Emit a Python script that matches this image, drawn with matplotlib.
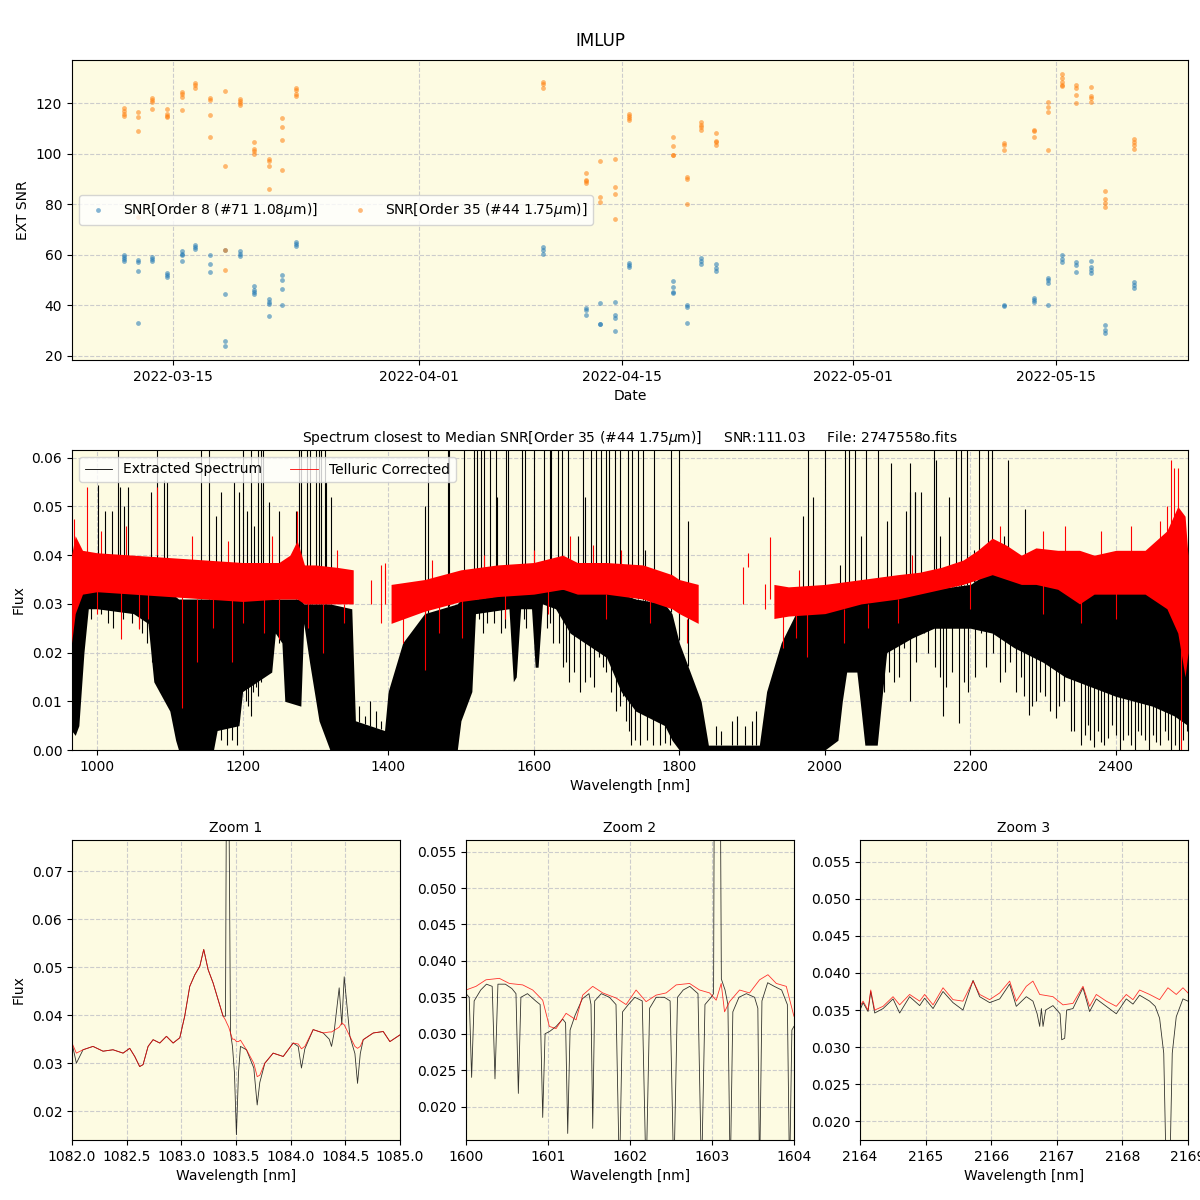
import numpy as np
import pandas as pd
import matplotlib
matplotlib.use("Agg")
import matplotlib.pyplot as plt
import matplotlib.dates as mdates
from matplotlib.lines import Line2D

BG = "#fdfbe2"
GRID = dict(ls="--", color="#cccccc", lw=0.8)

# ---------------- SNR per night (several exposures per night) ----------------
nights = ["2022-03-11 15:00", "2022-03-12 13:30", "2022-03-13 13:10", "2022-03-14 14:00",
          "2022-03-15 14:10", "2022-03-16 13:10", "2022-03-17 14:00", "2022-03-18 14:50",
          "2022-03-19 14:50", "2022-03-20 14:00", "2022-03-21 14:50", "2022-03-22 13:10",
          "2022-03-23 12:15", "2022-04-09 13:30", "2022-04-12 13:00", "2022-04-13 12:30",
          "2022-04-14 12:45", "2022-04-15 12:00", "2022-04-18 13:00", "2022-04-19 11:45",
          "2022-04-20 11:30", "2022-04-21 11:45", "2022-05-11 10:00", "2022-05-13 11:45",
          "2022-05-14 11:15", "2022-05-15 10:20", "2022-05-16 09:20", "2022-05-17 09:20",
          "2022-05-18 09:40", "2022-05-20 10:00"]
snr_o8 = [[60.1, 59.2, 58.4, 57.7], [58.1, 57.2, 53.5, 32.9], [59.2, 58.5, 57.7],
          [52.7, 51.9, 51.4], [61.6, 60.5, 60.0, 57.5], [63.9, 63.1, 62.2],
          [60.0, 56.3, 53.1], [61.8, 44.4, 25.9, 24.0], [61.6, 60.5, 59.6],
          [47.6, 46.0, 45.2, 44.4], [42.4, 41.4, 40.4, 35.7], [52.1, 49.9, 46.4, 40.1],
          [65.1, 64.3, 63.4], [62.9, 61.8, 60.5], [39.1, 38.2, 36.1],
          [40.8, 32.8, 32.5], [41.2, 36.1, 34.9, 29.8], [56.9, 56.0, 55.1],
          [49.6, 47.2, 45.1, 44.7], [40.1, 39.3, 32.9], [58.8, 57.7, 56.3],
          [56.3, 54.6, 53.4], [40.3, 39.8], [43.0, 42.2, 41.4], [50.9, 49.9, 49.0, 40.1],
          [60.0, 58.4, 57.2], [57.3, 55.9, 53.1], [57.5, 55.1, 54.0, 52.8],
          [32.1, 30.2, 29.0], [49.3, 48.1, 46.9]]
snr_o35 = [[118.0, 116.7, 115.8, 114.8], [116.4, 114.5, 108.9, 75.0], [121.8, 121.1, 120.3, 117.6],
           [117.6, 115.6, 115.0, 114.5], [124.2, 123.4, 122.4, 117.2], [127.9, 127.3, 125.9],
           [121.8, 121.1, 115.3, 106.5], [124.7, 95.1, 61.8, 53.9], [121.5, 120.8, 119.9, 119.1],
           [104.6, 101.8, 100.9, 99.8], [97.8, 96.9, 95.1, 86.0], [114.1, 110.5, 105.4, 93.5],
           [125.9, 125.1, 123.7, 122.9], [128.3, 127.5, 125.9], [92.3, 89.5, 89.0, 88.5],
           [97.0, 82.8, 81.0], [97.8, 86.8, 84.0, 74.1], [115.8, 115.0, 114.1, 113.1],
           [106.5, 103.0, 99.6, 99.3], [90.8, 90.0, 80.0], [112.3, 111.4, 110.4, 109.3],
           [108.1, 105.1, 104.4, 103.5], [104.0, 103.2, 101.5], [109.3, 108.8, 106.5],
           [120.5, 118.5, 116.4, 101.4], [131.6, 129.9, 128.2, 127.3, 126.6],
           [127.3, 125.9, 123.2, 120.0], [126.3, 122.9, 121.8, 120.5],
           [85.2, 82.0, 80.4, 78.8], [105.8, 104.6, 103.2, 101.8]]

# ---------------- full spectrum, read as envelopes ----------------
# extracted spectrum: top / bottom of the dense black band
ext_wl = [965, 970, 975, 982, 988, 1000, 1050, 1070, 1078, 1100, 1108, 1112, 1160, 1165,
          1195, 1200, 1240, 1245, 1254, 1258, 1280, 1284, 1292, 1305, 1320, 1350, 1355,
          1395, 1400, 1420, 1450, 1495, 1500, 1515, 1520, 1566, 1572, 1576, 1582, 1597,
          1602, 1606, 1612, 1630, 1650, 1700, 1720, 1740, 1780, 1790, 1800, 1830, 1840,
          1910, 1920, 1940, 1960, 2000, 2018, 2024, 2030, 2044, 2050, 2055, 2072, 2078,
          2085, 2120, 2150, 2200, 2230, 2260, 2300, 2330, 2400, 2450, 2480, 2499]
ext_hi = [0.030, 0.032, 0.033, 0.033, 0.033, 0.033, 0.0325, 0.032, 0.032, 0.032, 0.0315,
          0.031, 0.031, 0.031, 0.031, 0.031, 0.031, 0.031, 0.031, 0.031, 0.031, 0.030,
          0.030, 0.030, 0.030, 0.029, 0.006, 0.004, 0.012, 0.022, 0.028, 0.030, 0.031,
          0.031, 0.031, 0.032, 0.032, 0.032, 0.032, 0.033, 0.033, 0.033, 0.033, 0.033,
          0.033, 0.0325, 0.032, 0.031, 0.030, 0.028, 0.022, 0.010, 0.001, 0.001, 0.012,
          0.022, 0.028, 0.030, 0.030, 0.030, 0.030, 0.031, 0.031, 0.031, 0.031, 0.031,
          0.031, 0.032, 0.033, 0.034, 0.037, 0.035, 0.034, 0.033, 0.033, 0.032, 0.031,
          0.026]
ext_lo = [0.004, 0.003, 0.005, 0.020, 0.029, 0.029, 0.028, 0.026, 0.014, 0.008, 0.002,
          0.0, 0.0, 0.004, 0.005, 0.012, 0.016, 0.024, 0.022, 0.010, 0.009, 0.026,
          0.018, 0.006, 0.0, 0.0, 0.0, 0.0, 0.0, 0.0, 0.0, 0.0, 0.006, 0.012, 0.028,
          0.029, 0.014, 0.015, 0.029, 0.029, 0.017, 0.017, 0.030, 0.029, 0.024, 0.019,
          0.012, 0.008, 0.005, 0.002, 0.0, 0.0, 0.0, 0.0, 0.0, 0.0, 0.0, 0.0, 0.002,
          0.010, 0.016, 0.016, 0.008, 0.001, 0.001, 0.010, 0.020, 0.023, 0.025, 0.025,
          0.024, 0.021, 0.018, 0.015, 0.011, 0.009, 0.007, 0.005]

# individual deep telluric lines of the extracted spectrum (wavelength, minimum)
line_wl = [992, 1005, 1015, 1022, 1035, 1048, 1058, 1062, 1068, 1075, 1086, 1095,
           1170, 1178, 1185, 1192, 1205, 1208, 1211, 1214, 1218, 1221, 1225, 1232, 1236,
           1240, 1250, 1296, 1525, 1530, 1536, 1545, 1555, 1560, 1587, 1590, 1618, 1622,
           1626, 1635, 1640, 1645, 1649, 1655, 1663, 1670, 1677, 1683, 1690, 1695, 1700,
           1706, 1713, 1718, 1722, 1727, 1731, 1734, 1739, 1746, 1755, 1764, 1773, 1780,
           1787, 2081, 2088, 2095, 2102, 2109, 2117, 2125, 2136, 2142, 2151, 2158, 2163,
           2167, 2175, 2184, 2191, 2197, 2207, 2215, 2222, 2231, 2240, 2248, 2255, 2262,
           2269, 2273, 2280, 2285, 2290, 2296, 2303, 2310, 2317, 2322, 2329, 2338, 2343,
           2352, 2357, 2361, 2365, 2370, 2375, 2379, 2384, 2389, 2395, 2400, 2405, 2410,
           2416, 2421, 2426, 2430, 2434, 2440, 2446, 2451, 2455, 2460, 2467, 2471, 2476,
           2481, 2487, 2492, 2497]
line_min = [0.027, 0.028, 0.026, 0.025, 0.027, 0.026, 0.025, 0.024, 0.022, 0.018, 0.012,
            0.016, 0.002, 0.001, 0.002, 0.001, 0.010, 0.009, 0.007, 0.012, 0.013, 0.011,
            0.014, 0.017, 0.018, 0.020, 0.022, 0.020, 0.027, 0.024, 0.026, 0.026, 0.024,
            0.025, 0.027, 0.025, 0.025, 0.026, 0.022, 0.022, 0.017, 0.018, 0.014, 0.016,
            0.012, 0.014, 0.015, 0.013, 0.019, 0.017, 0.016, 0.012, 0.008, 0.009, 0.011,
            0.006, 0.004, 0.001, 0.002, 0.001, 0.002, 0.001, 0.001, 0.0015, 0.001, 0.012,
            0.016, 0.014, 0.015, 0.021, 0.010, 0.018, 0.024, 0.020, 0.017, 0.015, 0.007,
            0.013, 0.016, 0.0055, 0.014, 0.012, 0.015, 0.024, 0.017, 0.020, 0.014, 0.016,
            0.018, 0.012, 0.015, 0.011, 0.0072, 0.009, 0.010, 0.012, 0.011, 0.008, 0.0065,
            0.009, 0.010, 0.0038, 0.004, 0.001, 0.003, 0.0052, 0.002, 0.0007, 0.004,
            0.0017, 0.001, 0.0024, 0.0052, 0.003, 0.0, 0.002, 0.003, 0.001, 0.0, 0.004,
            0.003, 0.002, 0.0, 0.003, 0.0017, 0.001, 0.0038, 0.002, 0.0, 0.001, 0.0,
            0.002, 0.0038]

# upward spikes of the extracted spectrum (wavelength, peak flux)
spike_wl = [1028.8, 1082.6, 1142.9, 1154.3, 1200.0, 1211.4, 1220.5, 1225.1, 1227.4, 1277.6,
            1280.8, 1289.0, 1292.2, 1300.4, 1305.0, 1308.2, 1312.8, 1455.0, 1482.1, 1483.9,
            1504.6, 1517.4, 1522.5, 1528.0, 1531.2, 1539.4, 1548.6, 1561.9, 1564.7, 1583.5,
            1588.1, 1600.0, 1614.7, 1622.0, 1624.3, 1633.5, 1638.5, 1647.2, 1667.4, 1678.4,
            1684.9, 1693.1, 1699.5, 1704.1, 1711.9, 1718.8, 1729.8, 1735.6, 1743.4, 1750.3,
            1765.1, 1788.0, 1799.1, 1977.0, 2000.9, 2027.6, 2033.1, 2040.9, 2057.0, 2073.1,
            2150.3, 2180.2, 2187.6, 2195.4, 2211.5, 2224.4, 2229.9,
            1001.4, 1010.5, 1021.0, 1031.0, 1037.0, 1042.5, 1073.5, 1091.8, 1096.3, 1163.5,
            1170.3, 1188.6, 1195.4, 1205.9, 1215.1, 1236.5, 1250.2, 1273.1, 1314.1, 1321.0,
            1450.9, 1550.0, 1661.0, 1670.0, 1752.6, 1812.0, 1970.1, 1983.9, 2020.7, 2049.2,
            2086.0, 2090.6, 2111.3, 2116.8, 2117.2, 2123.7, 2124.1, 2132.4, 2153.1, 2158.6,
            2171.0, 2204.6, 2246.0, 2251.5, 2274.5,
            1360, 1368, 1375, 1383, 1390, 1850, 1858, 1872, 1880, 1890, 1900, 1906]
spike_top = [0.07] * 67 + [
    0.0545, 0.049, 0.049, 0.054, 0.050, 0.054, 0.053, 0.0554, 0.055, 0.048,
    0.053, 0.055, 0.053, 0.049, 0.046, 0.051, 0.049, 0.049, 0.055, 0.052,
    0.050, 0.052, 0.044, 0.052, 0.041, 0.047, 0.048, 0.052, 0.038, 0.044,
    0.047, 0.059, 0.049, 0.053, 0.059, 0.053, 0.053, 0.053, 0.0595, 0.044,
    0.052, 0.041, 0.044, 0.0595, 0.0495,
    0.009, 0.007, 0.010, 0.008, 0.006, 0.005, 0.004, 0.006, 0.007, 0.005, 0.006, 0.008]

# telluric corrected: band limits, None marks a gap (no data)
tel_wl = [965, 970, 980, 1000, 1050, 1100, 1150, 1200, 1250, 1265, 1275, 1285, 1300, 1330,
          1352, None, 1404, 1450, 1500, 1550, 1600, 1640, 1660, 1700, 1750, 1790, 1800,
          1826, None, 1930, 1950, 2000, 2050, 2100, 2130, 2160, 2190, 2210, 2230, 2250,
          2270, 2290, 2320, 2350, 2370, 2400, 2440, 2470, 2485, 2495, 2499]
tel_lo = [0.022, 0.028, 0.032, 0.0325, 0.032, 0.0315, 0.031, 0.0305, 0.031, 0.031, 0.031,
          0.030, 0.030, 0.030, 0.030, None, 0.026, 0.0285, 0.0305, 0.0315, 0.032, 0.033,
          0.032, 0.032, 0.031, 0.029, 0.028, 0.026, None, 0.027, 0.0275, 0.028, 0.030,
          0.031, 0.032, 0.033, 0.034, 0.035, 0.036, 0.035, 0.034, 0.034, 0.033, 0.030,
          0.032, 0.032, 0.032, 0.029, 0.024, 0.015, 0.020]
tel_hi = [0.040, 0.044, 0.041, 0.0405, 0.040, 0.0395, 0.039, 0.0385, 0.0385, 0.040, 0.043,
          0.038, 0.038, 0.0375, 0.037, None, 0.034, 0.035, 0.037, 0.038, 0.0385, 0.040,
          0.0385, 0.0385, 0.038, 0.036, 0.035, 0.034, None, 0.034, 0.0335, 0.034, 0.035,
          0.036, 0.0365, 0.0375, 0.039, 0.041, 0.0435, 0.042, 0.040, 0.0415, 0.041, 0.041,
          0.040, 0.041, 0.041, 0.045, 0.050, 0.048, 0.040]
# isolated telluric-corrected excursions (wavelength, low, high)
tspk_wl = [1033, 1058, 1117, 1138, 1186, 1250, 1310, 1451, 1502, 1943, 1976, 2026, 2352,
           2490, 968, 986, 1082, 1275, 1396, 1532, 1681, 1924, 2476, 2480, 2485, 2470,
           1376, 1390, 1395, 1887, 1895, 1918,
           1000, 1070, 1160, 1200, 1230, 1290, 1340, 1420, 1470, 1560, 1620, 1700, 1760,
           1810, 1960, 2060, 2100, 2200, 2300, 2400,
           1005, 1040, 1130, 1180, 1240, 1330, 1460, 1600, 1650, 1720, 1965, 2120, 2240,
           2300, 2330, 2380, 2420, 2460]
tspk_lo = [0.0227, 0.0248, 0.0086, 0.018, 0.018, 0.0227, 0.020, 0.0165, 0.023, 0.021,
           0.019, 0.022, 0.026, 0.0, 0.040, 0.040, 0.040, 0.040, 0.035, 0.037, 0.038,
           0.031, 0.044, 0.045, 0.048, 0.042, 0.030, 0.026, 0.030, 0.030, 0.0375, 0.029,
           0.028, 0.027, 0.025, 0.026, 0.024, 0.025, 0.026, 0.022, 0.024, 0.027, 0.028,
           0.027, 0.026, 0.022, 0.023, 0.025, 0.026, 0.029, 0.028, 0.027,
           0.036, 0.036, 0.035, 0.035, 0.035, 0.034, 0.032, 0.035, 0.036, 0.035, 0.031,
           0.034, 0.040, 0.038, 0.038, 0.037, 0.037, 0.038]
tspk_hi = [0.033, 0.033, 0.032, 0.031, 0.031, 0.031, 0.030, 0.029, 0.031, 0.028, 0.028,
           0.029, 0.031, 0.030, 0.0475, 0.054, 0.054, 0.049, 0.0385, 0.040, 0.042, 0.0437,
           0.0595, 0.058, 0.058, 0.050, 0.035, 0.038, 0.037, 0.0375, 0.0405, 0.034,
           0.033, 0.032, 0.031, 0.031, 0.031, 0.031, 0.030, 0.028, 0.030, 0.032, 0.033,
           0.032, 0.031, 0.027, 0.028, 0.030, 0.031, 0.035, 0.034, 0.033,
           0.045, 0.046, 0.044, 0.043, 0.044, 0.041, 0.039, 0.041, 0.044, 0.041, 0.037,
           0.040, 0.046, 0.045, 0.046, 0.045, 0.046, 0.047]

# ---------------- zoom windows ----------------
z1_wl = [1082.000, 1082.040, 1082.101, 1082.192, 1082.284, 1082.375, 1082.467, 1082.528,
         1082.574, 1082.619, 1082.650, 1082.696, 1082.742, 1082.803, 1082.864, 1082.925,
         1082.986, 1083.031, 1083.077, 1083.123, 1083.169, 1083.205, 1083.245, 1083.291,
         1083.337, 1083.382, 1083.404, 1083.413, 1083.434, 1083.450, 1083.468, 1083.486,
         1083.504, 1083.523, 1083.541, 1083.596, 1083.663, 1083.694, 1083.718, 1083.764,
         1083.840, 1083.932, 1084.023, 1084.069, 1084.099, 1084.130, 1084.206, 1084.298,
         1084.353, 1084.374, 1084.395, 1084.444, 1084.468, 1084.490, 1084.542, 1084.588,
         1084.612, 1084.637, 1084.664, 1084.756, 1084.847, 1084.908, 1085.000]
z1_tel = [0.0342, 0.0321, 0.0328, 0.0335, 0.0325, 0.0328, 0.0321, 0.0331, 0.0314, 0.0293,
          0.0297, 0.0335, 0.0349, 0.0342, 0.0356, 0.0342, 0.0353, 0.0398, 0.0460, 0.0484,
          0.0502, 0.0537, 0.0495, 0.0467, 0.0432, 0.0398, 0.0390, 0.0385, 0.0375, 0.0363,
          0.0350, 0.0350, 0.0345, 0.0345, 0.0348, 0.0328, 0.0300, 0.0272, 0.0275, 0.0300,
          0.0321, 0.0314, 0.0342, 0.0340, 0.0330, 0.0335, 0.0370, 0.0363, 0.0365, 0.0365,
          0.0368, 0.0375, 0.0384, 0.0380, 0.0356, 0.0335, 0.0331, 0.0335, 0.0349, 0.0363,
          0.0366, 0.0345, 0.0359]
z1_ext = [0.0342, 0.0300, 0.0328, 0.0335, 0.0325, 0.0328, 0.0321, 0.0331, 0.0314, 0.0293,
          0.0297, 0.0335, 0.0349, 0.0342, 0.0356, 0.0342, 0.0353, 0.0398, 0.0460, 0.0484,
          0.0502, 0.0537, 0.0495, 0.0467, 0.0432, 0.0398, 0.0398, 0.0900, 0.0900, 0.0363,
          0.0335, 0.0280, 0.0151, 0.0280, 0.0335, 0.0328, 0.0290, 0.0213, 0.0260, 0.0300,
          0.0321, 0.0314, 0.0342, 0.0335, 0.0290, 0.0330, 0.0370, 0.0363, 0.0350, 0.0335,
          0.0360, 0.0457, 0.0380, 0.0480, 0.0356, 0.0320, 0.0258, 0.0320, 0.0349, 0.0363,
          0.0366, 0.0345, 0.0359]

z2_tel_wl = [1600.000, 1600.122, 1600.244, 1600.407, 1600.529, 1600.692, 1600.814, 1600.936,
             1601.017, 1601.099, 1601.221, 1601.343, 1601.424, 1601.546, 1601.668, 1601.831,
             1601.953, 1602.075, 1602.197, 1602.320, 1602.442, 1602.564, 1602.727, 1602.849,
             1602.971, 1603.052, 1603.113, 1603.154, 1603.215, 1603.337, 1603.459, 1603.581,
             1603.683, 1603.785, 1603.907, 1604.000]
z2_tel = [0.0360, 0.0365, 0.0374, 0.0376, 0.0369, 0.0367, 0.0360, 0.0346, 0.0310, 0.0307,
          0.0328, 0.0319, 0.0353, 0.0365, 0.0356, 0.0349, 0.0340, 0.0360, 0.0344, 0.0353,
          0.0356, 0.0367, 0.0369, 0.0360, 0.0356, 0.0346, 0.0369, 0.0330, 0.0344, 0.0360,
          0.0356, 0.0374, 0.0381, 0.0369, 0.0365, 0.0324]
z2_ext_wl = [1600.000, 1600.040, 1600.069, 1600.100, 1600.180, 1600.250, 1600.320, 1600.354,
             1600.390, 1600.480, 1600.560, 1600.610, 1600.639, 1600.670, 1600.750, 1600.850,
             1600.905, 1600.936, 1600.965, 1601.020, 1601.100, 1601.180, 1601.215, 1601.241,
             1601.270, 1601.330, 1601.420, 1601.500, 1601.525, 1601.546, 1601.570, 1601.650,
             1601.750, 1601.830, 1601.872, 1601.910, 1601.980, 1602.060, 1602.150, 1602.197,
             1602.240, 1602.320, 1602.420, 1602.490, 1602.535, 1602.580, 1602.650, 1602.730,
             1602.830, 1602.873, 1602.915, 1602.990, 1603.020, 1603.030, 1603.100, 1603.115,
             1603.160, 1603.195, 1603.223, 1603.255, 1603.330, 1603.420, 1603.520, 1603.560,
             1603.581, 1603.610, 1603.680, 1603.760, 1603.850, 1603.920, 1603.947, 1603.975,
             1604.000]
z2_ext = [0.0355, 0.0350, 0.0240, 0.0345, 0.0360, 0.0368, 0.0365, 0.0238, 0.0368, 0.0368,
          0.0362, 0.0355, 0.0218, 0.0350, 0.0355, 0.0345, 0.0340, 0.0185, 0.0300, 0.0303,
          0.0310, 0.0320, 0.0315, 0.0163, 0.0305, 0.0325, 0.0348, 0.0355, 0.0340, 0.0170,
          0.0345, 0.0355, 0.0350, 0.0340, 0.0100, 0.0330, 0.0340, 0.0350, 0.0345, 0.0100,
          0.0335, 0.0350, 0.0350, 0.0345, 0.0100, 0.0350, 0.0360, 0.0365, 0.0355, 0.0100,
          0.0340, 0.0350, 0.0355, 0.0700, 0.0700, 0.0375, 0.0360, 0.0340, 0.0100, 0.0330,
          0.0350, 0.0355, 0.0350, 0.0335, 0.0100, 0.0345, 0.0370, 0.0365, 0.0360, 0.0340,
          0.0100, 0.0305, 0.0310]

z3_tel_wl = [2164.000, 2164.046, 2164.122, 2164.163, 2164.224, 2164.351, 2164.503, 2164.604,
             2164.756, 2164.909, 2164.985, 2165.113, 2165.265, 2165.417, 2165.569, 2165.723,
             2165.824, 2165.976, 2166.129, 2166.281, 2166.382, 2166.535, 2166.636, 2166.739,
             2166.941, 2167.094, 2167.246, 2167.399, 2167.500, 2167.602, 2167.754, 2167.907,
             2168.059, 2168.161, 2168.262, 2168.415, 2168.567, 2168.694, 2168.821, 2168.923,
             2169.000]
z3_tel = [0.0355, 0.0362, 0.0350, 0.0377, 0.0350, 0.0355, 0.0368, 0.0357, 0.0371, 0.0362,
          0.0371, 0.0357, 0.0380, 0.0364, 0.0362, 0.0389, 0.0371, 0.0364, 0.0373, 0.0389,
          0.0362, 0.0382, 0.0389, 0.0371, 0.0368, 0.0357, 0.0359, 0.0382, 0.0355, 0.0371,
          0.0362, 0.0355, 0.0371, 0.0364, 0.0377, 0.0371, 0.0364, 0.0380, 0.0371, 0.0380,
          0.0373]
z3_ext_wl = [2164.000, 2164.046, 2164.122, 2164.163, 2164.224, 2164.351, 2164.503, 2164.604,
             2164.756, 2164.909, 2164.985, 2165.113, 2165.265, 2165.417, 2165.569, 2165.723,
             2165.824, 2165.976, 2166.129, 2166.281, 2166.382, 2166.535, 2166.636, 2166.700,
             2166.739, 2166.765, 2166.790, 2166.830, 2166.941, 2167.050, 2167.075, 2167.120,
             2167.150, 2167.246, 2167.399, 2167.500, 2167.602, 2167.754, 2167.907, 2168.059,
             2168.161, 2168.262, 2168.415, 2168.500, 2168.567, 2168.630, 2168.670, 2168.720,
             2168.760, 2168.821, 2168.923, 2169.000]
z3_ext = [0.0350, 0.0360, 0.0348, 0.0375, 0.0346, 0.0352, 0.0365, 0.0346, 0.0368, 0.0356,
          0.0366, 0.0352, 0.0375, 0.0360, 0.0350, 0.0390, 0.0368, 0.0360, 0.0365, 0.0385,
          0.0355, 0.0368, 0.0362, 0.0345, 0.0328, 0.0352, 0.0328, 0.0350, 0.0356, 0.0345,
          0.0310, 0.0312, 0.0350, 0.0352, 0.0380, 0.0348, 0.0365, 0.0355, 0.0345, 0.0365,
          0.0358, 0.0370, 0.0362, 0.0355, 0.0339, 0.0292, 0.0120, 0.0120, 0.0292, 0.0341,
          0.0365, 0.0362]

fig = plt.figure(figsize=(12, 12), dpi=100)
fig.suptitle("IMLUP", y=0.973, fontsize=12)

# ---- top: SNR vs date ----
ax = fig.add_axes([0.06, 0.70, 0.93, 0.25])
ax.set_facecolor(BG)
t8 = [pd.Timestamp(n) for n, v in zip(nights, snr_o8) for _ in v]
t35 = [pd.Timestamp(n) for n, v in zip(nights, snr_o35) for _ in v]
ax.scatter(t8, sum(snr_o8, []), s=12, color="C0", alpha=0.55, lw=0,
           label=r"SNR[Order 8 (#71 1.08$\mu$m)]")
ax.scatter(t35, sum(snr_o35, []), s=12, color="C1", alpha=0.55, lw=0,
           label=r"SNR[Order 35 (#44 1.75$\mu$m)]")
ax.set_xlim(pd.Timestamp("2022-03-08 00:30"), pd.Timestamp("2022-05-24 03:00"))
ax.set_ylim(18.4, 137)
ax.xaxis.set_major_locator(mdates.DayLocator(bymonthday=[1, 15]))
ax.xaxis.set_major_formatter(mdates.DateFormatter("%Y-%m-%d"))
ax.set_xlabel("Date")
ax.set_ylabel("EXT SNR")
ax.grid(True, **GRID)
ax.set_axisbelow(True)
ax.legend(loc="center left", ncol=2)

# ---- middle: full spectrum ----
ax = fig.add_axes([0.06, 0.375, 0.93, 0.25])
ax.set_facecolor(BG)
ax.fill_between(ext_wl, ext_lo, ext_hi, color="k", lw=0, zorder=2)
tops = np.interp(line_wl, ext_wl, ext_hi)
ax.vlines(line_wl, line_min, tops, color="k", lw=0.8, zorder=2)
base = np.interp(spike_wl, ext_wl, ext_hi)
ax.vlines(spike_wl, base, spike_top, color="k", lw=0.8, zorder=2)
# telluric corrected, split at gaps
seg = []
for w, lo, hi in zip(tel_wl + [None], tel_lo + [None], tel_hi + [None]):
    if w is None:
        if seg:
            sw, sl, sh = zip(*seg)
            ax.fill_between(sw, sl, sh, color="red", lw=0, zorder=3)
        seg = []
    else:
        seg.append((w, lo, hi))
ax.vlines(tspk_wl, tspk_lo, tspk_hi, color="red", lw=0.8, zorder=3)
ax.set_xlim(965.6, 2499)
ax.set_ylim(0, 0.0616)
ax.set_xticks(range(1000, 2401, 200))
ax.set_yticks(np.arange(0, 0.061, 0.01))
ax.yaxis.set_major_formatter(matplotlib.ticker.FormatStrFormatter("%.2f"))
ax.set_xlabel("Wavelength [nm]")
ax.set_ylabel("Flux")
ax.set_title(r"Spectrum closest to Median SNR[Order 35 (#44 1.75$\mu$m)]     "
             "SNR:111.03     File: 2747558o.fits", fontsize=10)
ax.grid(True, **GRID)
ax.set_axisbelow(True)
ax.legend(handles=[Line2D([0], [0], color="k", lw=0.6, label="Extracted Spectrum"),
                   Line2D([0], [0], color="red", lw=0.6, label="Telluric Corrected")],
          loc="upper left", ncol=2)

# ---- bottom: zooms ----
zooms = [
    ("Zoom 1", z1_wl, z1_ext, z1_wl, z1_tel, (1082, 1085), (0.0140, 0.0765),
     np.arange(1082, 1085.01, 0.5), np.arange(0.02, 0.0701, 0.01)),
    ("Zoom 2", z2_ext_wl, z2_ext, z2_tel_wl, z2_tel, (1600, 1604), (0.0154, 0.0566),
     range(1600, 1605), np.arange(0.020, 0.0551, 0.005)),
    ("Zoom 3", z3_ext_wl, z3_ext, z3_tel_wl, z3_tel, (2164, 2169), (0.0175, 0.0579),
     range(2164, 2170), np.arange(0.020, 0.0551, 0.005)),
]
lefts = [0.06, 0.3883, 0.7167]
for i, (title, ew, ef, tw, tf, xl, yl, xt, yt) in enumerate(zooms):
    ax = fig.add_axes([lefts[i], 0.05, 0.2733, 0.25])
    ax.set_facecolor(BG)
    ax.plot(ew, ef, color="k", lw=0.6, alpha=0.8)
    ax.plot(tw, tf, color="red", lw=0.6, alpha=0.8)
    ax.set_xlim(*xl)
    ax.set_ylim(*yl)
    ax.set_xticks(list(xt))
    ax.set_yticks(list(yt))
    if i == 0:
        ax.xaxis.set_major_formatter(matplotlib.ticker.FormatStrFormatter("%.1f"))
        ax.yaxis.set_major_formatter(matplotlib.ticker.FormatStrFormatter("%.2f"))
        ax.set_ylabel("Flux")
    else:
        ax.xaxis.set_major_formatter(matplotlib.ticker.FormatStrFormatter("%d"))
        ax.yaxis.set_major_formatter(matplotlib.ticker.FormatStrFormatter("%.3f"))
    ax.set_xlabel("Wavelength [nm]")
    ax.set_title(title, fontsize=10)
    ax.grid(True, **GRID)
    ax.set_axisbelow(True)

fig.savefig("out.png", dpi=100)
